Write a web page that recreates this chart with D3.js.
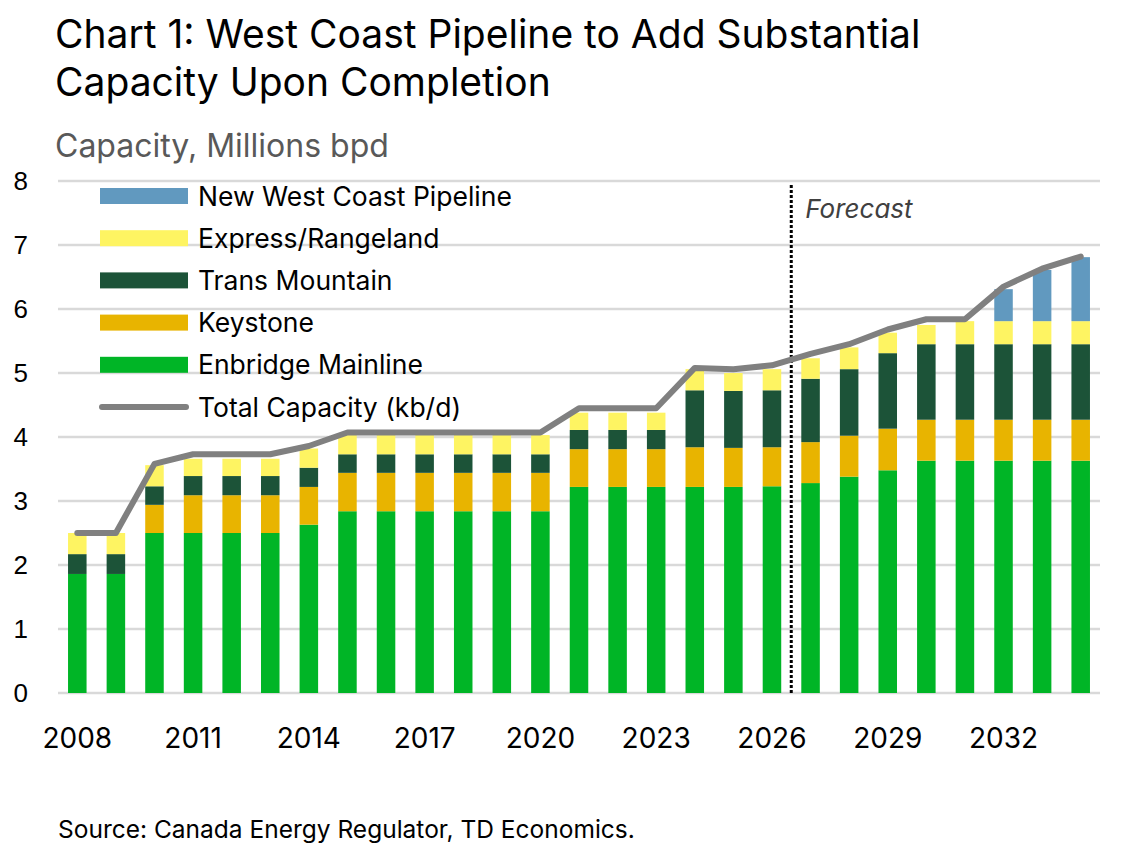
<!DOCTYPE html>
<html>
<head>
<meta charset="utf-8">
<script src="https://cdn.jsdelivr.net/npm/d3@7/dist/d3.min.js"></script>
<style>
  body { margin: 0; background: #fff; }
  text { font-family: Inter, "Open Sans", sans-serif; }
  .tick-y { font-family: "Liberation Sans", Arial, sans-serif; }
</style>
</head>
<body>
<div id="vis"></div>
<script>
const FRAME_WIDTH = 1143;
const FRAME_HEIGHT = 848;
const MARGINS = {left: 58, right: 43, top: 181, bottom: 155};

// data (millions bpd)
const years = [2008, 2009, 2010, 2011, 2012, 2013, 2014, 2015, 2016, 2017, 2018, 2019, 2020, 2021,
               2022, 2023, 2024, 2025, 2026, 2027, 2028, 2029, 2030, 2031, 2032, 2033, 2034];
const enbridge = [1.86, 1.86, 2.50, 2.50, 2.50, 2.50, 2.63, 2.84, 2.84, 2.84, 2.84, 2.84, 2.84, 3.22,
                  3.22, 3.22, 3.22, 3.22, 3.23, 3.28, 3.38, 3.48, 3.63, 3.63, 3.63, 3.63, 3.63];
const keystone = [0, 0, 0.44, 0.59, 0.59, 0.59, 0.59, 0.60, 0.60, 0.60, 0.60, 0.60, 0.60, 0.59,
                  0.59, 0.59, 0.62, 0.61, 0.61, 0.64, 0.64, 0.65, 0.64, 0.64, 0.64, 0.64, 0.64];
const transMountain = [0.31, 0.31, 0.29, 0.30, 0.30, 0.30, 0.30, 0.29, 0.29, 0.29, 0.29, 0.29, 0.29, 0.30,
                       0.30, 0.30, 0.89, 0.89, 0.89, 0.99, 1.04, 1.18, 1.18, 1.18, 1.18, 1.18, 1.18];
const express = [0.33, 0.33, 0.33, 0.27, 0.27, 0.27, 0.30, 0.30, 0.30, 0.30, 0.30, 0.30, 0.30, 0.27,
                 0.27, 0.27, 0.33, 0.28, 0.33, 0.32, 0.34, 0.32, 0.30, 0.36, 0.36, 0.36, 0.36];
const newWestCoast = [0, 0, 0, 0, 0, 0, 0, 0, 0, 0, 0, 0, 0, 0,
                      0, 0, 0, 0, 0, 0, 0, 0, 0, 0, 0.50, 0.80, 1.00];
const totalCapacity = [2.50, 2.50, 3.58, 3.73, 3.73, 3.73, 3.86, 4.07, 4.07, 4.07, 4.07, 4.07, 4.07, 4.45,
                       4.45, 4.45, 5.08, 5.06, 5.12, 5.30, 5.45, 5.68, 5.84, 5.84, 6.35, 6.63, 6.82];
const yTicks = [0, 1, 2, 3, 4, 5, 6, 7, 8];
const xTickYears = [2008, 2011, 2014, 2017, 2020, 2023, 2026, 2029, 2032];
const forecastAfter = 2026;

const SERIES = [
  {key: "enbridge", label: "Enbridge Mainline", values: enbridge, color: "#00B526"},
  {key: "keystone", label: "Keystone", values: keystone, color: "#E8B400"},
  {key: "transMountain", label: "Trans Mountain", values: transMountain, color: "#1C5338"},
  {key: "express", label: "Express/Rangeland", values: express, color: "#FEF462"},
  {key: "newWestCoast", label: "New West Coast Pipeline", values: newWestCoast, color: "#6199BF"}
];

const table = years.map((y, i) => {
  const row = {year: y, total: totalCapacity[i]};
  SERIES.forEach(s => { row[s.key] = s.values[i]; });
  return row;
});

const svg = d3.select("#vis")
  .append("svg")
  .attr("width", FRAME_WIDTH)
  .attr("height", FRAME_HEIGHT);

const X_SCALE = d3.scaleBand()
  .domain(years)
  .range([MARGINS.left, FRAME_WIDTH - MARGINS.right])
  .paddingInner(0.52)
  .paddingOuter(0.26);

const Y_SCALE = d3.scaleLinear()
  .domain([0, 8])
  .range([FRAME_HEIGHT - MARGINS.bottom, MARGINS.top]);

// titles
svg.append("text")
  .attr("x", 55).attr("y", 48)
  .style("font-size", "39px").style("fill", "#000")
  .text("Chart 1: West Coast Pipeline to Add Substantial");
svg.append("text")
  .attr("x", 55).attr("y", 96)
  .style("font-size", "39px").style("fill", "#000")
  .text("Capacity Upon Completion");
svg.append("text")
  .attr("x", 55).attr("y", 157)
  .style("font-size", "32px").style("fill", "#595959")
  .text("Capacity, Millions bpd");

// gridlines
svg.append("g")
  .selectAll("line")
  .data(yTicks)
  .enter()
  .append("line")
    .attr("x1", MARGINS.left)
    .attr("x2", FRAME_WIDTH - MARGINS.right)
    .attr("y1", d => Y_SCALE(d))
    .attr("y2", d => Y_SCALE(d))
    .attr("stroke", "#D9D9D9")
    .attr("stroke-width", 2.5);

// y axis labels
const yAxis = svg.append("g")
  .attr("transform", "translate(" + 28 + ",0)")
  .call(d3.axisLeft(Y_SCALE).tickValues(yTicks).tickSize(0).tickPadding(0));
yAxis.select(".domain").remove();
yAxis.selectAll("text")
  .attr("class", "tick-y")
  .style("font-size", "26px")
  .style("fill", "#000");

// x axis labels
const xAxis = svg.append("g")
  .attr("transform", "translate(0," + Y_SCALE(0) + ")")
  .call(d3.axisBottom(X_SCALE).tickValues(xTickYears).tickSize(0).tickPadding(41));
xAxis.select(".domain").remove();
xAxis.selectAll("text")
  .style("font-size", "28px")
  .style("fill", "#000")
  .attr("dy", "0.5em");

// stacked bars
const stacked = d3.stack().keys(SERIES.map(s => s.key))(table);

svg.append("g")
  .selectAll("g")
  .data(stacked)
  .enter()
  .append("g")
    .attr("fill", (d, i) => SERIES[i].color)
  .selectAll("rect")
  .data(d => d)
  .enter()
  .append("rect")
    .attr("x", d => X_SCALE(d.data.year))
    .attr("y", d => Y_SCALE(d[1]))
    .attr("width", X_SCALE.bandwidth())
    .attr("height", d => Y_SCALE(d[0]) - Y_SCALE(d[1]));

// forecast divider
const divX = X_SCALE(forecastAfter) + X_SCALE.bandwidth() + X_SCALE.step() * X_SCALE.paddingInner() / 2;
svg.append("line")
  .attr("x1", divX).attr("x2", divX)
  .attr("y1", 185).attr("y2", Y_SCALE(0))
  .attr("stroke", "#000")
  .attr("stroke-width", 3)
  .attr("stroke-dasharray", "3,2");
svg.append("text")
  .attr("x", divX + 14).attr("y", 218)
  .style("font-size", "26px").style("font-style", "italic").style("fill", "#404040")
  .text("Forecast");

// total capacity line
const line = d3.line()
  .x(d => X_SCALE(d.year) + X_SCALE.bandwidth() / 2)
  .y(d => Y_SCALE(d.total));

svg.append("path")
  .datum(table)
  .attr("d", line)
  .attr("fill", "none")
  .attr("stroke", "#808080")
  .attr("stroke-width", 6)
  .attr("stroke-linejoin", "round")
  .attr("stroke-linecap", "round");

// legend
const legendItems = SERIES.slice().reverse()
  .map(s => ({label: s.label, color: s.color, type: "bar"}))
  .concat([{label: "Total Capacity (kb/d)", color: "#808080", type: "line"}]);

const legend = svg.append("g");
legendItems.forEach((d, i) => {
  const cy = 196 + i * 42.2;
  if (d.type === "bar") {
    legend.append("rect")
      .attr("x", 100).attr("y", cy - 8)
      .attr("width", 88).attr("height", 16)
      .attr("fill", d.color);
  } else {
    legend.append("line")
      .attr("x1", 102).attr("x2", 186)
      .attr("y1", cy).attr("y2", cy)
      .attr("stroke", d.color)
      .attr("stroke-width", 6)
      .attr("stroke-linecap", "round");
  }
  legend.append("text")
    .attr("x", 198).attr("y", cy + 9.5)
    .style("font-size", "26.5px").style("fill", "#000")
    .text(d.label);
});

// source
svg.append("text")
  .attr("x", 58).attr("y", 838)
  .style("font-size", "24.5px").style("fill", "#000")
  .text("Source: Canada Energy Regulator, TD Economics.");
</script>
</body>
</html>
